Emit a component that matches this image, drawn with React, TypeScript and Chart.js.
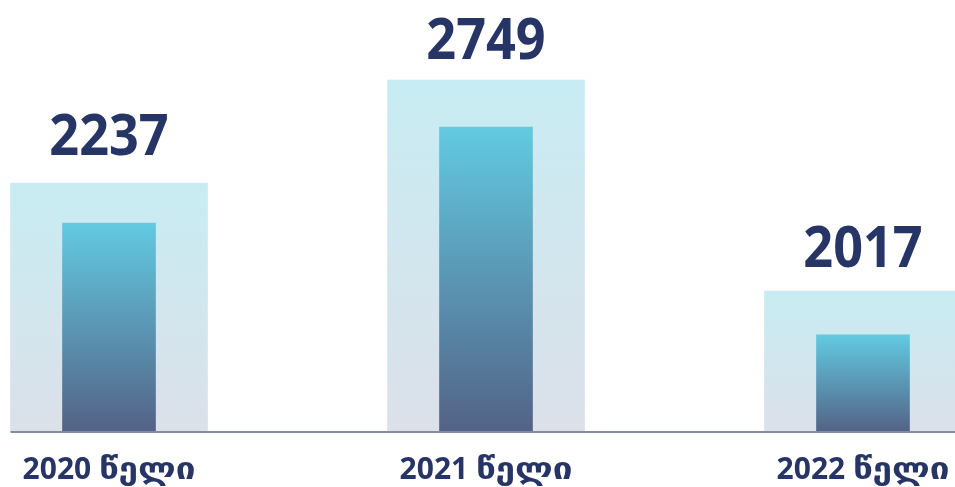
import React, { useEffect, useRef } from "react";
import { Chart, registerables } from "chart.js";

Chart.register(...registerables);

// ---- data ----
const categories = ["2020 წელი", "2021 წელი", "2022 წელი"];
const displayValues = [2237, 2749, 2017];
// visual heights (abstract units on a 0–120 scale)
const backgroundHeights = [70.8, 100.1, 40.1];
const barHeights = [59.4, 86.7, 27.6];

const W = 955;
const H = 487;
const TEXT = "#263566";
const FONT = "'Noto Sans', 'DejaVu Sans', sans-serif";

function gradientFor(ctx: any, top: string, bottom: string, fallback: string) {
  const chart = ctx.chart;
  const area = chart.chartArea;
  if (!area || ctx.type !== "data") return fallback;
  const y = chart.scales.y;
  const topPx = y.getPixelForValue(ctx.parsed.y);
  const g = chart.ctx.createLinearGradient(0, topPx, 0, area.bottom);
  g.addColorStop(0, top);
  g.addColorStop(1, bottom);
  return g;
}

function drawScaled(ctx: any, text: string, x: number, y: number, sx: number, align: string) {
  ctx.save();
  ctx.translate(x, y);
  ctx.scale(sx, 1);
  ctx.textAlign = align;
  ctx.fillText(text, 0, 0);
  ctx.restore();
}

const overlayPlugin = {
  id: "overlay",
  afterDatasetsDraw(chart: any) {
    const ctx = chart.ctx;
    const area = chart.chartArea;
    const outerMeta = chart.getDatasetMeta(1);
    const innerMeta = chart.getDatasetMeta(0);
    ctx.save();
    // axis line
    const first = outerMeta.data[0];
    const left = first.x - first.width / 2;
    ctx.strokeStyle = "#818da2";
    ctx.lineWidth = 2;
    ctx.beginPath();
    ctx.moveTo(left, area.bottom);
    ctx.lineTo(W, area.bottom);
    ctx.stroke();
    // labels
    ctx.fillStyle = TEXT;
    ctx.textBaseline = "alphabetic";
    innerMeta.data.forEach((el: any, i: number) => {
      ctx.font = `bold 58px ${FONT}`;
      drawScaled(ctx, String(displayValues[i]), el.x, el.y - 68, 0.9, "center");

      // category label: year + Georgian word
      const [year, word] = categories[i].split(" ");
      const wordScale = 1.17;
      ctx.font = `bold 30px ${FONT}`;
      const yw = ctx.measureText(year + " ").width;
      const ww = ctx.measureText(word).width * wordScale;
      const start = el.x - (yw + ww) / 2;
      const base = area.bottom + 47;
      drawScaled(ctx, year + " ", start, base, 1, "left");
      drawScaled(ctx, word, start + yw, base, wordScale, "left");
    });
    ctx.restore();
  },
};

export default function App() {
  const ref = useRef<HTMLCanvasElement | null>(null);
  useEffect(() => {
    if (!ref.current) return;
    const chart = new Chart(ref.current, {
      type: "bar",
      data: {
        datasets: [
          {
            label: "bars",
            data: barHeights.map((v, i) => ({ x: i, y: v })),
            barThickness: 93,
            grouped: false,
            order: 0,
            backgroundColor: (c: any) => gradientFor(c, "#62cae1", "#536286", "#5592ae"),
          } as any,
          {
            label: "background",
            data: backgroundHeights.map((v, i) => ({ x: i, y: v })),
            barThickness: 197,
            grouped: false,
            order: 1,
            backgroundColor: (c: any) => gradientFor(c, "#c8ecf3", "#dce0e9", "#d3e4ec"),
          } as any,
        ],
      },
      options: {
        animation: false,
        responsive: false,
        devicePixelRatio: 1,
        layout: { padding: { top: 10, bottom: 55, left: 0, right: 0 } },
        plugins: { legend: { display: false }, tooltip: { enabled: false } },
        scales: {
          x: {
            type: "linear",
            display: false,
            offset: false,
            min: -109 / 377,
            max: (W - 109) / 377,
          },
          y: { display: false, min: 0, max: 120 },
        },
      },
      plugins: [overlayPlugin],
    });
    return () => chart.destroy();
  }, []);
  return (
    <div style={{ position: "fixed", left: 0, top: 0, width: W, height: H, background: "#fff" }}>
      <canvas ref={ref} width={W} height={H} style={{ width: W, height: H, display: "block" }} />
    </div>
  );
}
